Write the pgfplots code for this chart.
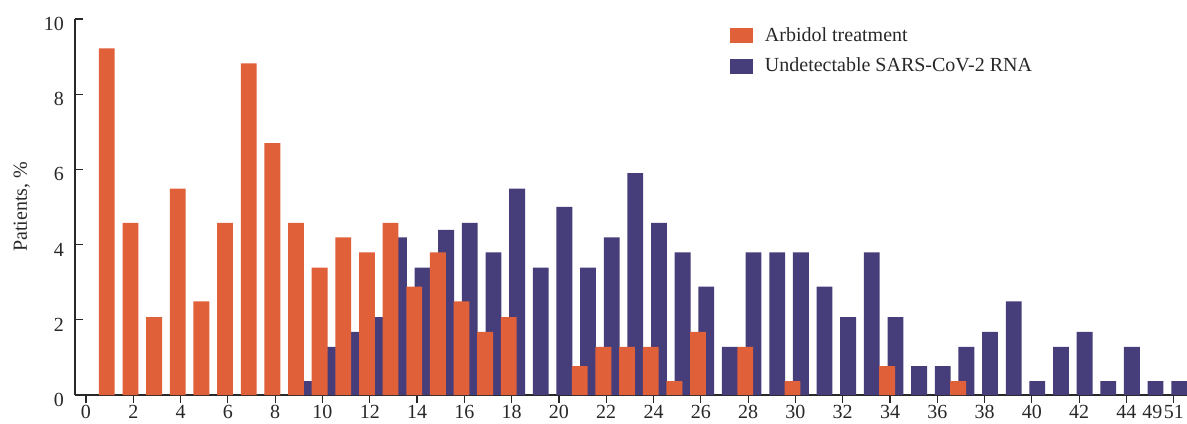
\documentclass[border=0pt]{standalone}
\usepackage{fontspec}
\setmainfont{Liberation Serif}
\usepackage{pgfplots}
\pgfplotsset{compat=1.18}
\definecolor{arb}{RGB}{224,96,58}
\definecolor{und}{RGB}{70,62,122}
\definecolor{axc}{RGB}{40,40,40}
\pgfplotstableread{
x y
1 9.22
2 4.58
3 2.07
4 5.49
5 2.49
6 4.58
7 8.82
8 6.70
9 4.58
10 3.39
11 4.19
12 3.79
13 4.58
14 2.88
15 3.79
16 2.49
17 1.68
18 2.07
21 0.77
22 1.28
23 1.28
24 1.28
25 0.37
26 1.68
28 1.28
30 0.37
34 0.77
37 0.37
}\arbidol
\pgfplotstableread{
x y
9 0.37
10 1.28
11 1.68
12 2.07
13 4.19
14 3.39
15 4.39
16 4.58
17 3.79
18 5.49
19 3.39
20 5.00
21 3.39
22 4.19
23 5.90
24 4.58
25 3.79
26 2.88
27 1.28
28 3.79
29 3.79
30 3.79
31 2.88
32 2.07
33 3.79
34 2.07
35 0.77
36 0.77
37 1.28
38 1.68
39 2.49
40 0.37
41 1.28
42 1.68
43 0.37
44 1.28
45 0.37
46 0.37
}\undetect
\begin{document}
\begin{tikzpicture}
\begin{axis}[
  scale only axis, width=556pt, height=188pt,
  xmin=-0.465, xmax=46.56, ymin=0, ymax=10,
  axis x line=bottom, axis y line=left,
  axis line style={-, color=axc, line width=0.6pt},
  tick align=inside, major tick length=3.8pt,
  tick style={color=axc, line width=0.6pt},
  ytick={0,2,4,6,8,10},
  xtick={0,2,4,6,8,10,12,14,16,18,20,22,24,26,28,30,32,34,36,38,40,42,44,46},
  xticklabels={0,2,4,6,8,10,12,14,16,18,20,22,24,26,28,30,32,34,36,38,40,42,44,51},
  extra x ticks={45.1}, extra x tick labels={49},
  extra x tick style={tick style={draw=none}},
  /pgf/number format/assume math mode=true,
  ticklabel style={font=\fontsize{10}{12}\selectfont, text=axc},
  xticklabel style={inner ysep=0pt, yshift=-1.2pt},
  yticklabel style={xshift=-2pt, yshift=-2.5pt},
  ybar, bar width=0.67,
  every axis y label/.style={at={(axis description cs:0,0.5)}, xshift=-24pt, rotate=90, anchor=base, font=\fontsize{10}{12}\selectfont, text=axc},
  ylabel={Patients, \%},
  legend style={at={(0.589,0.99)}, anchor=north west, draw=none, fill=none,
    legend cell align=left, row sep=3pt, inner sep=0pt,
    /tikz/every odd column/.append style={column sep=4pt},
    font=\fontsize{10}{12}\selectfont, text=axc},
  reverse legend,
]
\addplot[fill=und, draw=none, bar shift=0.23,
  legend image code/.code={\fill[und] (0pt,-3.9pt) rectangle (11.3pt,3.9pt);}]
  table[x=x,y=y] {\undetect};
\addlegendentry{Undetectable SARS-CoV-2 RNA}
\addplot[fill=arb, draw=none, bar shift=-0.12,
  legend image code/.code={\fill[arb] (0pt,-3.9pt) rectangle (11.3pt,3.9pt);}]
  table[x=x,y=y] {\arbidol};
\addlegendentry{Arbidol treatment}
\end{axis}
\pgfresetboundingbox
\path[use as bounding box] (-37.5pt,-14pt) rectangle (556pt,197.5pt);
\end{tikzpicture}
\end{document}
